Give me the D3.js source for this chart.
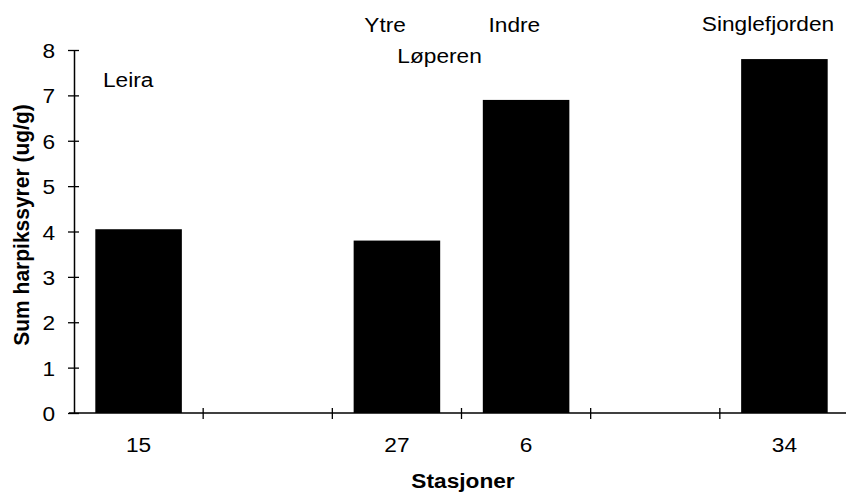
<!DOCTYPE html>
<html>
<head>
<meta charset="utf-8">
<script src="https://cdn.jsdelivr.net/npm/d3@7"></script>
<style>
  html, body { margin: 0; padding: 0; background: #fff; }
  svg { display: block; }
  text { font-family: "Liberation Sans", Arial, Helvetica, sans-serif; fill: #000; }
</style>
</head>
<body>
<svg id="chart" width="846" height="495"></svg>
<script>
// ---- data ----
const slots = ["s1", "s2", "s3", "s4", "s5", "s6"];          // x slots (band domain)
const stations = ["15", "", "27", "6", "", "34"];             // tick labels per slot
const values = [4.05, null, 3.8, 6.9, null, 7.8];             // Sum harpikssyrer (ug/g)
const yTicks = [0, 1, 2, 3, 4, 5, 6, 7, 8];
const areaNames = ["Leira", "Ytre", "Løperen", "Indre", "Singlefjorden"];
const areaSlots = ["s1", "s3", "s3", "s4", "s6"];
const yTitle = "Sum harpikssyrer (ug/g)";
const xTitle = "Stasjoner";

// ---- layout ----
const svg = d3.select("#chart");
const X0 = 74, X1 = 849, Y0 = 413, Y1 = 50;
const SX = 1.08; // slight horizontal stretch of the scanned text

const x = d3.scaleBand().domain(slots).range([X0, X1]).padding(0);
const y = d3.scaleLinear().domain([0, 8]).range([Y0, Y1]);

const barW = x.bandwidth() * 0.67;

// bars
svg.append("g").selectAll("rect")
  .data(slots.map((s, i) => ({ s, v: values[i] })).filter(d => d.v != null))
  .join("rect")
  .attr("x", d => x(d.s) + (x.bandwidth() - barW) / 2)
  .attr("width", barW)
  .attr("y", d => y(d.v))
  .attr("height", d => y(0) - y(d.v))
  .attr("fill", "#000");

// y axis
const yAxis = svg.append("g")
  .attr("transform", `translate(${X0},0)`)
  .call(d3.axisLeft(y).tickValues(yTicks).tickSize(6).tickSizeOuter(0).tickFormat(d3.format("d")));
yAxis.select(".domain").attr("stroke", "#000").attr("stroke-width", 1.5);
yAxis.selectAll(".tick line").attr("x1", 5).attr("stroke", "#000").attr("stroke-width", 1.3);
yAxis.selectAll(".tick text").remove();
yAxis.selectAll(".tick").append("text")
  .attr("transform", `translate(-19,0) scale(${SX},1)`)
  .attr("text-anchor", "end")
  .attr("dy", "0.36em")
  .style("font-size", "21px")
  .text(d => d3.format("d")(d));

// x axis
const xAxisG = svg.append("g").attr("transform", `translate(0,${Y0})`);
xAxisG.append("line")
  .attr("x1", X0 - 5).attr("x2", 846)
  .attr("stroke", "#000").attr("stroke-width", 1.5);
const boundaries = slots.map(s => x(s)).concat([x(slots[slots.length - 1]) + x.bandwidth()]).slice(1);
xAxisG.selectAll("line.tk").data(boundaries).join("line")
  .attr("class", "tk")
  .attr("x1", d => d).attr("x2", d => d)
  .attr("y1", -5).attr("y2", 6)
  .attr("stroke", "#000").attr("stroke-width", 1.3);

// station tick labels
svg.append("g").selectAll("text")
  .data(slots.map((s, i) => ({ s, t: stations[i] })).filter(d => d.t !== ""))
  .join("text")
  .attr("transform", d => `translate(${x(d.s) + x.bandwidth() / 2},452) scale(${SX},1)`)
  .attr("text-anchor", "middle")
  .style("font-size", "21px")
  .text(d => d.t);

// area annotations (offsets from slot start, baselines in value units)
const annX = [29, 32, 65, 27, -18];
const annY = [7.18, 8.4, 7.72, 8.4, 8.42];
svg.append("g").selectAll("text")
  .data(areaNames.map((n, i) => ({ n, s: areaSlots[i], i })))
  .join("text")
  .attr("transform", d => `translate(${x(d.s) + annX[d.i]},${y(annY[d.i])}) scale(${SX},1)`)
  .attr("text-anchor", "start")
  .style("font-size", "21px")
  .text(d => d.n);

// axis titles
svg.append("text")
  .attr("transform", `translate(29,${(105 + 345) / 2}) rotate(-90) scale(1,${SX})`)
  .attr("text-anchor", "middle")
  .style("font-size", "21px")
  .style("font-weight", "bold")
  .text(yTitle);

svg.append("text")
  .attr("transform", `translate(463,488) scale(${SX},1)`)
  .attr("text-anchor", "middle")
  .style("font-size", "21px")
  .style("font-weight", "bold")
  .text(xTitle);
</script>
</body>
</html>
